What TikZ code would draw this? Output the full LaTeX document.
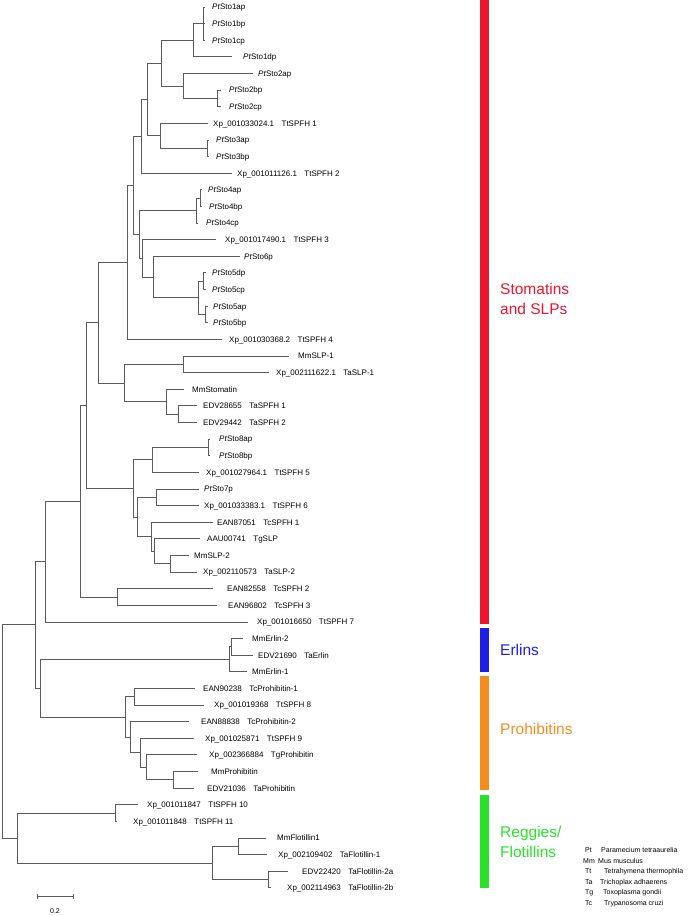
\documentclass[tikz,border=0pt]{standalone}
\usepackage{fontspec}
\setmainfont{Liberation Sans}
\usetikzlibrary{calc}
\definecolor{tline}{RGB}{90,90,90}
\definecolor{gred}{RGB}{237,20,45}
\definecolor{gblue}{RGB}{30,30,230}
\definecolor{gorange}{RGB}{245,140,30}
\definecolor{ggreen}{RGB}{40,225,40}
\newcommand\idgap{\hspace{7.5pt}}
\newcommand\Lf[5]{%
  \coordinate (#1) at (#3,{7+16.62*(#2-1)});
  \node[lab] (#1t) at (#4,{7+16.62*(#2-1)}) {#5};}
\newcommand\Nd[4]{%
  \path let \p1=($(#3)!0.5!(#4)$) in coordinate (#1) at (#2pt,\y1);
  \draw[br] (#1) |- (#3);
  \draw[br] (#1) |- (#4);}
\newcommand\Ndd[5]{%
  \path let \p1=($(#3)!0.5!(#5)$) in coordinate (#1) at (#2pt,\y1);
  \draw[br] (#1) |- (#3);
  \draw[br] (#1) |- (#4);
  \draw[br] (#1) |- (#5);}
\tikzset{
  br/.style={draw=tline, line width=0.85pt},
  lab/.style={anchor=west, inner sep=0pt, font=\fontsize{8}{9}\selectfont, text height=5.7pt, text depth=0pt},
  grp/.style={anchor=west, inner sep=0pt, font=\fontsize{15.5}{19.5}\selectfont, align=left},
  leg/.style={anchor=west, inner sep=0pt, font=\fontsize{7}{8}\selectfont, text height=5pt, text depth=0pt},
}
\begin{document}
\begin{tikzpicture}[x=1pt,y=-1pt]
\useasboundingbox (0,0) rectangle (691,916);
% ---------- leaves ----------
\Lf{s1a}{1}{205}{212}{\textit{Pt}Sto1ap}
\Lf{s1b}{2}{205}{212}{\textit{Pt}Sto1bp}
\Lf{s1c}{3}{205}{212}{\textit{Pt}Sto1cp}
\Lf{s1d}{4}{232}{243}{\textit{Pt}Sto1dp}
\Lf{s2a}{5}{253}{258}{\textit{Pt}Sto2ap}
\Lf{s2b}{6}{221}{229}{\textit{Pt}Sto2bp}
\Lf{s2c}{7}{221}{229}{\textit{Pt}Sto2cp}
\Lf{t1}{8}{208}{213}{Xp\_001033024.1\idgap TtSPFH 1}
\Lf{s3a}{9}{209}{216}{\textit{Pt}Sto3ap}
\Lf{s3b}{10}{209}{216}{\textit{Pt}Sto3bp}
\Lf{t2}{11}{232}{237}{Xp\_001011126.1\idgap TtSPFH 2}
\Lf{s4a}{12}{202}{208}{\textit{Pt}Sto4ap}
\Lf{s4b}{13}{202}{209}{\textit{Pt}Sto4bp}
\Lf{s4c}{14}{198}{206}{\textit{Pt}Sto4cp}
\Lf{t3}{15}{216}{225}{Xp\_001017490.1\idgap TtSPFH 3}
\Lf{s6}{16}{240}{244}{\textit{Pt}Sto6p}
\Lf{s5d}{17}{206}{212}{\textit{Pt}Sto5dp}
\Lf{s5c}{18}{206}{212}{\textit{Pt}Sto5cp}
\Lf{s5a}{19}{208}{213}{\textit{Pt}Sto5ap}
\Lf{s5b}{20}{208}{213}{\textit{Pt}Sto5bp}
\Lf{t4}{21}{222}{229}{Xp\_001030368.2\idgap TtSPFH 4}
\Lf{mslp1}{22}{289}{298}{MmSLP-1}
\Lf{taslp1}{23}{269}{276}{Xp\_002111622.1\idgap TaSLP-1}
\Lf{mst}{24}{184}{192}{MmStomatin}
\Lf{ta1}{25}{197}{203}{EDV28655\idgap TaSPFH 1}
\Lf{ta2}{26}{197}{203}{EDV29442\idgap TaSPFH 2}
\Lf{s8a}{27}{210}{219}{\textit{Pt}Sto8ap}
\Lf{s8b}{28}{210}{219}{\textit{Pt}Sto8bp}
\Lf{t5}{29}{199}{206}{Xp\_001027964.1\idgap TtSPFH 5}
\Lf{s7}{30}{199}{204}{\textit{Pt}Sto7p}
\Lf{t6}{31}{199}{204}{Xp\_001033383.1\idgap TtSPFH 6}
\Lf{tc1}{32}{213}{217}{EAN87051\idgap TcSPFH 1}
\Lf{tg}{33}{200}{207}{AAU00741\idgap TgSLP}
\Lf{mslp2}{34}{189}{194}{MmSLP-2}
\Lf{taslp2}{35}{197}{203}{Xp\_002110573\idgap TaSLP-2}
\Lf{tc2}{36}{213}{227}{EAN82558\idgap TcSPFH 2}
\Lf{tc3}{37}{217}{228}{EAN96802\idgap TcSPFH 3}
\Lf{t7}{38}{248}{257}{Xp\_001016650\idgap TtSPFH 7}
\Lf{me2}{39}{243}{252}{MmErlin-2}
\Lf{tae}{40}{253}{258}{EDV21690\idgap TaErlin}
\Lf{me1}{41}{247}{252}{MmErlin-1}
\Lf{tcp1}{42}{195}{203}{EAN90238\idgap TcProhibitin-1}
\Lf{t8}{43}{204}{214}{Xp\_001019368\idgap TtSPFH 8}
\Lf{tcp2}{44}{189}{201}{EAN88838\idgap TcProhibitin-2}
\Lf{t9}{45}{194}{205}{Xp\_001025871\idgap TtSPFH 9}
\Lf{tgp}{46}{197}{209}{Xp\_002366884\idgap TgProhibitin}
\Lf{mp}{47}{198}{211}{MmProhibitin}
\Lf{tap}{48}{194}{207}{EDV21036\idgap TaProhibitin}
\Lf{t10}{49}{138}{147}{Xp\_001011847\idgap TtSPFH 10}
\Lf{t11}{50}{117}{133}{Xp\_001011848\idgap TtSPFH 11}
\Lf{mf}{51}{266}{277}{MmFlotillin1}
\Lf{taf1}{52}{267}{278}{Xp\_002109402\idgap TaFlotillin-1}
\Lf{taf2a}{53}{288}{302}{EDV22420\idgap TaFlotillin-2a}
\Lf{taf2b}{54}{271}{287}{Xp\_002114963\idgap TaFlotillin-2b}
% ---------- internal nodes ----------
\Ndd{s1}{203}{s1a}{s1b}{s1c}
\Nd{n1}{193}{s1}{s1d}
\Nd{s2bc}{217}{s2b}{s2c}
\Nd{s2}{183}{s2a}{s2bc}
\Nd{n2}{161}{n1}{s2}
\Nd{s3}{207}{s3a}{s3b}
\Nd{n4}{160}{t1}{s3}
\Nd{n3}{147}{n2}{n4}
\Nd{n5}{141}{n3}{t2}
\Nd{s4ab}{200}{s4a}{s4b}
\Nd{s4}{196}{s4ab}{s4c}
\Nd{s5dc}{203}{s5d}{s5c}
\Nd{s5ab}{205}{s5a}{s5b}
\Nd{s5}{198}{s5dc}{s5ab}
\Nd{n9}{153}{s6}{s5}
\Nd{n8}{142}{t3}{n9}
\Nd{n7}{139}{s4}{n8}
\Nd{n6}{133}{n5}{n7}
\Nd{h}{127}{n6}{t4}
\Nd{slp1}{183}{mslp1}{taslp1}
\Nd{tas}{178}{ta1}{ta2}
\Nd{stom}{166}{mst}{tas}
\Nd{i}{124}{slp1}{stom}
\Nd{e}{98}{h}{i}
\Nd{s8}{208}{s8a}{s8b}
\Nd{g1}{152}{s8}{t5}
\Nd{s7n}{156}{s7}{t6}
\Nd{g5}{170}{mslp2}{taslp2}
\Nd{g4}{154}{tg}{g5}
\Nd{g3}{151}{tc1}{g4}
\Nd{g2}{137}{s7n}{g3}
\Nd{g}{133}{g1}{g2}
\Nd{d}{86}{e}{g}
\Nd{tc23}{117}{tc2}{tc3}
\Nd{c}{80}{d}{tc23}
\Nd{b}{45}{c}{t7}
\Nd{erab}{231}{me2}{tae}
\Nd{er}{229}{erab}{me1}
\Nd{p1}{134}{tcp1}{t8}
\Nd{p5}{173}{mp}{tap}
\Nd{p4}{146}{tgp}{p5}
\Nd{p3}{140}{t9}{p4}
\Nd{p2}{130}{tcp2}{p3}
\Nd{p}{125}{p1}{p2}
\Nd{ep}{40}{er}{p}
\Nd{a}{35}{b}{ep}
\Nd{t1011}{115}{t10}{t11}
\Nd{fa}{238}{mf}{taf1}
\Nd{fb}{268}{taf2a}{taf2b}
\Nd{fl}{212}{fa}{fb}
\Nd{f}{17}{t1011}{fl}
\Nd{root}{2}{a}{f}
% ---------- scale bar ----------
\coordinate (sbl) at (37,896);
\coordinate (sbr) at (73,896);
\draw[br] (sbl) -- (sbr);
\draw[br] ([yshift=2.5pt]sbl) -- ([yshift=-2.5pt]sbl);
\draw[br] ([yshift=2.5pt]sbr) -- ([yshift=-2.5pt]sbr);
\node[leg, anchor=center] (sbt) at (55,911) {0.2};
% ---------- group bars ----------
\fill[gred] (480,0) rectangle (489,624);
\fill[gblue] (480,628) rectangle (489,672);
\fill[gorange] (480,676) rectangle (489,790);
\fill[ggreen] (480,795) rectangle (489,888);
\node[grp, text=gred] (gs) at (500,299) {Stomatins\\and SLPs};
\node[grp, text=gblue] (ge) at (500,650) {Erlins};
\node[grp, text=gorange] (gp) at (500,729) {Prohibitins};
\node[grp, text=ggreen] (gf) at (500,842) {Reggies/\\Flotillins};
% ---------- legend ----------
\node[leg] (l1a) at (585,850) {Pt};   \node[leg] (l1b) at (601,850) {Paramecium tetraaurelia};
\node[leg] (l2a) at (583,860.6) {Mm}; \node[leg] (l2b) at (598,860.6) {Mus musculus};
\node[leg] (l3a) at (585,871.2) {Tt}; \node[leg] (l3b) at (604,871.2) {Tetrahymena thermophila};
\node[leg] (l4a) at (585,881.8) {Ta}; \node[leg] (l4b) at (600,881.8) {Trichoplax adhaerens};
\node[leg] (l5a) at (585,892.4) {Tg}; \node[leg] (l5b) at (603,892.4) {Toxoplasma gondii};
\node[leg] (l6a) at (585,903) {Tc};   \node[leg] (l6b) at (604,903) {Trypanosoma cruzi};
\end{tikzpicture}
\end{document}
